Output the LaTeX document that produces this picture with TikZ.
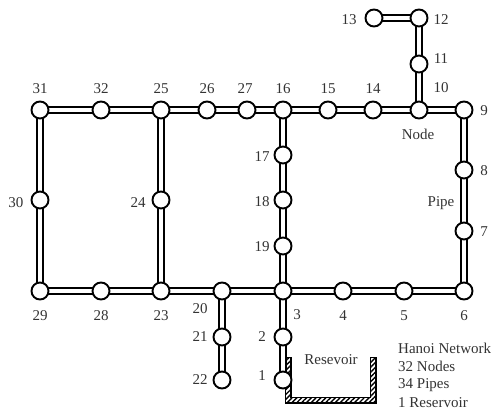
\documentclass[tikz,border=0pt]{standalone}
\usepackage{fontspec}
\setmainfont{Liberation Serif}
\usetikzlibrary{patterns.meta}
\definecolor{labelgray}{gray}{0.2}
\tikzset{
  junction/.style={circle,draw=black,fill=white,line width=1.9pt,minimum size=17pt,inner sep=0pt},
  pipe/.style={draw=black,line width=1.9pt,double=white,double distance=3.4pt},
  tag/.style={text=labelgray,inner sep=0pt,font=\fontsize{15}{17}\selectfont},
  wall/.style={draw=black,line width=1.7pt,pattern={Lines[angle=45,distance=3.4pt,line width=1.4pt]},pattern color=black},
}
\begin{document}
\begin{tikzpicture}[x=1pt,y=-1pt]
\useasboundingbox (0,0) rectangle (493,411);
% reservoir
\draw[wall] (285.5,357.5)--(291,357.5)--(291,397.5)--(370.5,397.5)--(370.5,357.5)--(376,357.5)--(376,403)--(285.5,403)--cycle;
% junctions
\foreach \n/\x/\y in {1/283/380,2/283/337,3/283/291,4/343/291,5/404/291,6/464/291,7/464/231,8/464/170,
  9/464/110,10/419/110,11/419/64,12/419/18,13/374/18,14/373/110,15/328/110,16/283/110,
  17/283/155,18/283/200,19/283/246,20/222/291,21/222/337,22/222/380,23/161/291,24/161/200,
  25/161/110,26/207/110,27/247/110,28/101/291,29/40/291,30/40/200,31/40/110,32/101/110}
  \coordinate (p\n) at (\x,\y);
% pipes
\foreach \a/\b in {1/2,2/3,3/4,4/5,5/6,6/7,7/8,8/9,9/10,10/11,11/12,12/13,10/14,14/15,15/16,16/17,17/18,18/19,19/3,
  3/20,20/21,21/22,20/23,23/24,24/25,25/26,26/27,27/16,23/28,28/29,29/30,30/31,31/32,32/25}
  \draw[pipe] (p\a)--(p\b);
\foreach \n in {1,...,32}
  \node[junction] (n\n) at (p\n) {};
% numbers
\foreach \n/\x/\y in {1/262/376,2/262/337,3/297/315,4/343/316,5/404/316,6/464/316,7/484/232,8/484/171,
  9/484/111,10/441/88,11/441/59,12/441/20,13/349/20,14/373/89,15/328/89,16/283/89,
  17/262/157,18/262/202,19/262/247,20/200/309,21/200/337,22/200/380,23/161/316,24/138/203,
  25/161/89,26/207/89,27/245/89,28/101/316,29/40/316,30/16/203,31/40/89,32/101/89}
  \node[tag] (t\n) at (\x,\y) {\n};
\node[tag] (nodetag) at (418,134) {Node};
\node[tag] (pipetag) at (441,203) {Pipe};
\node[tag] (restag) at (331,360) {Resevoir};
\node[tag,anchor=west] (info1) at (398,348) {Hanoi Network};
\node[tag,anchor=west] (info2) at (398,366) {32 Nodes};
\node[tag,anchor=west] (info3) at (398,385) {34 Pipes};
\node[tag,anchor=west] (info4) at (398,403) {1 Reservoir};
\end{tikzpicture}
\end{document}
